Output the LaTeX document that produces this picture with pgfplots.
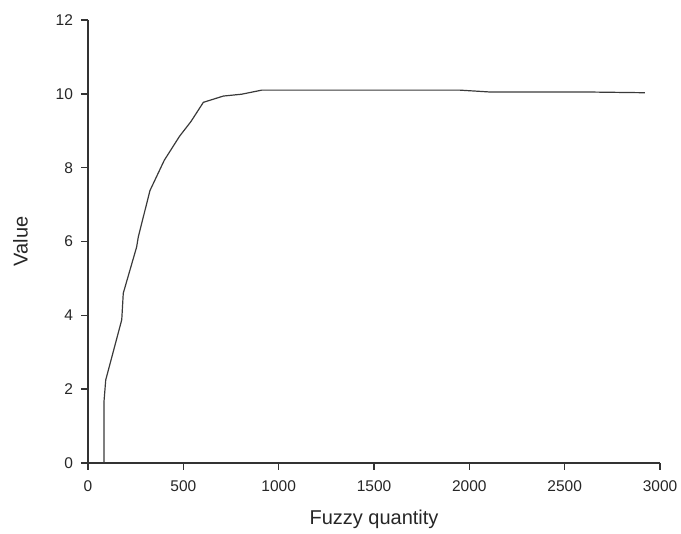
\documentclass[border=0pt]{standalone}
\usepackage{pgfplots}
\pgfplotsset{compat=1.18}
\usepackage{fontspec}
\setmainfont{Liberation Sans}

\definecolor{axisgray}{HTML}{333333}
\definecolor{curvegray}{HTML}{3A3A3A}

\begin{document}
\begin{tikzpicture}
\begin{axis}[
    scale only axis,
    width=572pt,
    height=443pt,
    xmin=0, xmax=3000,
    ymin=0, ymax=12,
    axis lines*=left,
    axis line style={axisgray, line width=1.5pt},
    xtick={0,500,...,3000},
    ytick={0,2,...,12},
    tick align=outside,
    tick style={axisgray, line width=1.5pt},
    major tick length=6.5pt,
    minor tick num=0,
    /pgf/number format/assume math mode=true,
    /pgf/number format/set thousands separator={},
    ticklabel style={font=\fontsize{15.5}{17}\selectfont, text=black!85},
    xticklabel style={yshift=-8pt},
    yticklabel style={xshift=-5pt},
    xlabel={Fuzzy quantity},
    ylabel={Value},
    label style={font=\fontsize{20}{23}\selectfont, text=black!85},
    xlabel style={yshift=-11pt},
    ylabel style={yshift=21pt},
    clip=false,
]
\addplot[curvegray, line width=1.2pt] coordinates {
    (84,0) (84,1.67) (93,2.25) (177,3.88) (185,4.6) (255,5.85) (264,6.13)
    (325,7.38) (400,8.2) (480,8.85) (540,9.25) (605,9.77) (710,9.94)
    (806,9.99) (911,10.1) (1951,10.1) (2108,10.05) (2615,10.05) (2921,10.03)
};
\end{axis}
\path ([shift={(-88pt,-70.7pt)}]current axis.south west) rectangle ([shift={(21pt,20pt)}]current axis.north east);
\end{tikzpicture}
\end{document}
